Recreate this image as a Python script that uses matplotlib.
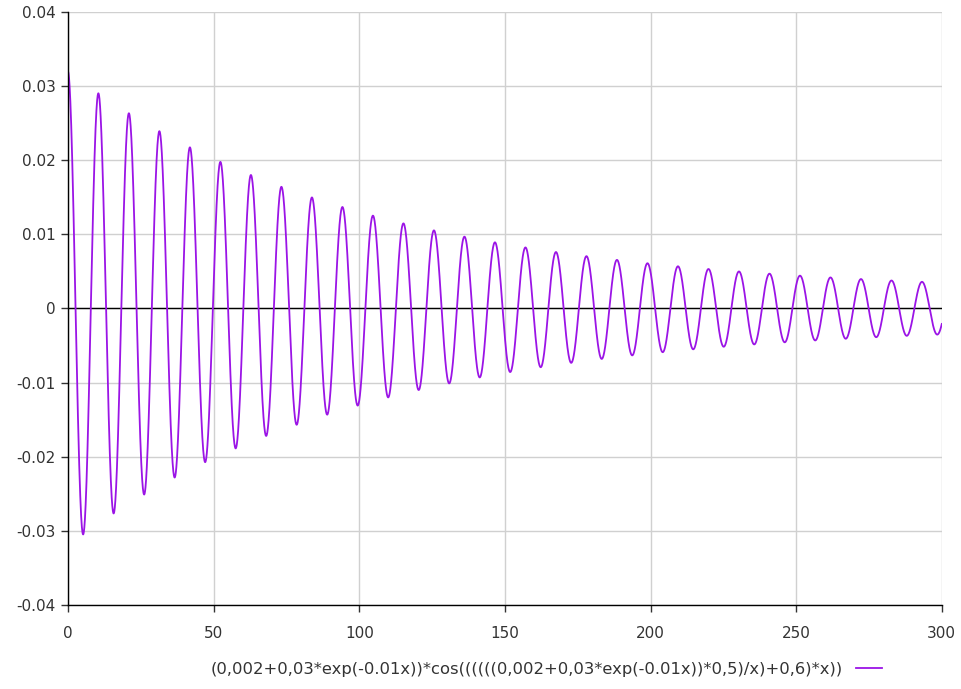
import numpy as np
import matplotlib
matplotlib.use("Agg")
from matplotlib import pyplot as plt

# constants
base = 0.002
amp = 0.03
decay = 0.01
half = 0.5
freq = 0.6

label = "(0,002+0,03*exp(-0.01x))*cos((((((0,002+0,03*exp(-0.01x))*0,5)/x)+0,6)*x))"
xticks = [0, 50, 100, 150, 200, 250, 300]
yticks = [-0.04, -0.03, -0.02, -0.01, 0, 0.01, 0.02, 0.03, 0.04]
ylabels = ["-0.04", "-0.03", "-0.02", "-0.01", "0", "0.01", "0.02", "0.03", "0.04"]

x = np.linspace(1e-6, 300, 6000)
a = base + amp * np.exp(-decay * x)
y = a * np.cos(((a * half) / x + freq) * x)

plt.rcParams['font.family'] = ['DejaVu Sans']
fig = plt.figure(figsize=(9.62, 6.89), dpi=100)
ax = fig.add_axes([0.0707, 0.1219, 0.9083, 0.8607])

ax.plot(x, y, color='#9b14e6', lw=1.3, label=label)
ax.axhline(0, color='black', lw=1.0, zorder=1)

ax.set_xlim(0, 300)
ax.set_ylim(-0.04, 0.04)
ax.set_xticks(xticks)
ax.set_yticks(yticks)
ax.set_yticklabels(ylabels)
ax.grid(True, color='#d0d0d0', lw=1.0)
ax.set_axisbelow(True)
for s in ['top', 'right']:
    ax.spines[s].set_visible(False)
for s in ['left', 'bottom']:
    ax.spines[s].set_color('black')
    ax.spines[s].set_linewidth(1.0)
ax.tick_params(axis='both', labelsize=11, colors='#333333', length=5, width=1)
ax.tick_params(axis='x', pad=10)
ax.tick_params(axis='y', pad=4)

fig.legend(loc='center', bbox_to_anchor=(0.568, 0.029), frameon=False,
           markerfirst=False, fontsize=11.8, handlelength=1.6, labelcolor='#333333')

fig.savefig("out.png", dpi=100)
